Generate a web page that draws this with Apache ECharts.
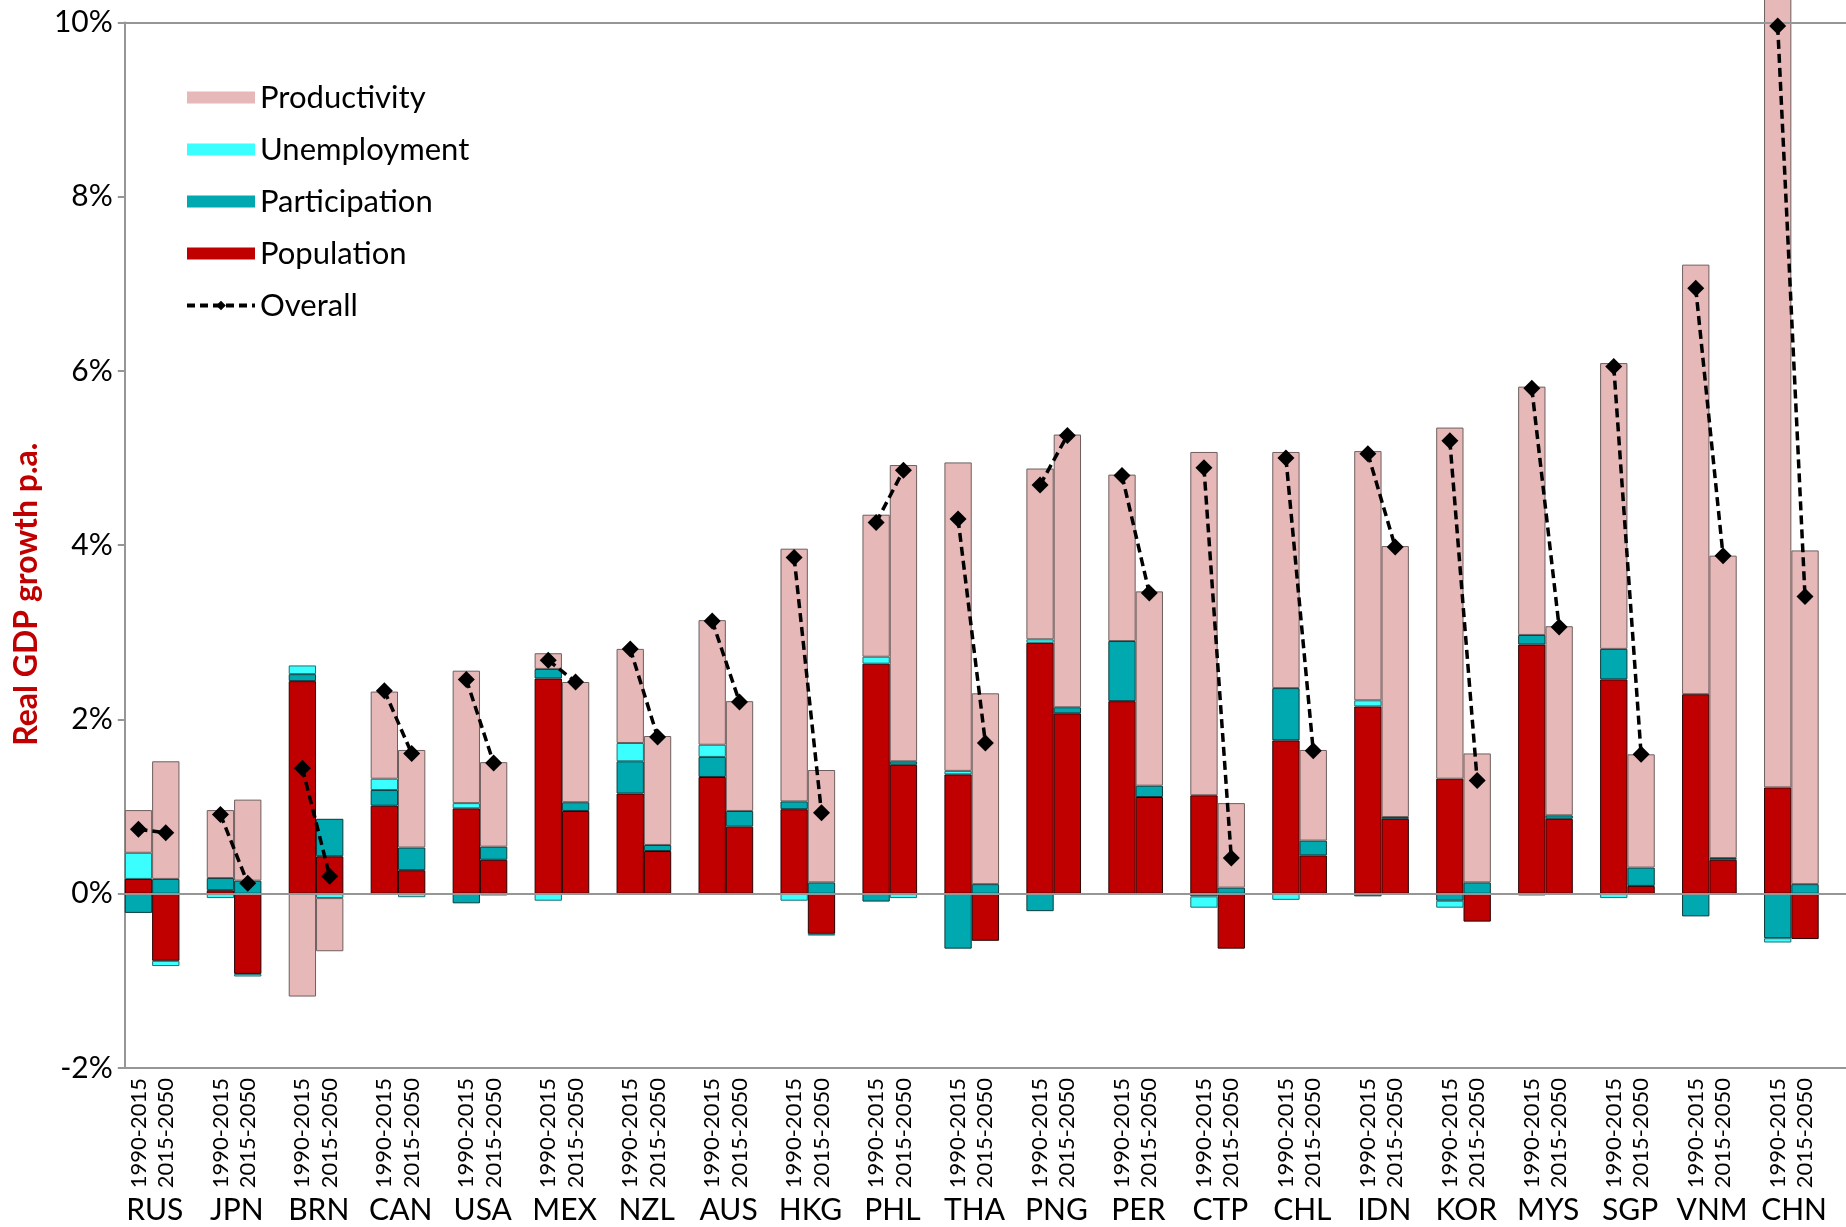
<!DOCTYPE html>
<html><head><meta charset="utf-8">
<script src="https://cdn.jsdelivr.net/npm/echarts@6/dist/echarts.min.js"></script>
<style>html,body{margin:0;padding:0;background:#fff}#c{width:1846px;height:1227px}</style>
</head><body><div id="c"></div>
<script>
const countries = ['RUS','JPN','BRN','CAN','USA','MEX','NZL','AUS','HKG','PHL','THA','PNG','PER','CTP','CHL','IDN','KOR','MYS','SGP','VNM','CHN'];
const periods = ['1990-2015','2015-2050'];
// values in % p.a., pairs per country: [1990-2015, 2015-2050]
const population    = [0.17,-0.77, 0.04,-0.92, 2.44,0.43, 1.01,0.27, 0.98,0.39, 2.47,0.95, 1.15,0.49, 1.34,0.77, 0.97,-0.46, 2.64,1.48, 1.37,-0.54, 2.88,2.07, 2.21,1.11, 1.13,-0.63, 1.76,0.44, 2.15,0.86, 1.32,-0.32, 2.86,0.86, 2.46,0.09, 2.29,0.39, 1.22,-0.52];
const participation = [-0.22,0.17, 0.14,0.15, 0.08,0.43, 0.18,0.26, -0.11,0.15, 0.11,0.10, 0.37,0.07, 0.23,0.18, 0.09,0.13, -0.09,0.04, -0.63,0.11, -0.20,0.07, 0.69,0.13, -0.03,0.07, 0.60,0.17, -0.03,0.02, -0.08,0.13, 0.11,0.04, 0.35,0.21, -0.26,0.02, -0.51,0.11];
const unemployment  = [0.30,-0.06, -0.05,-0.03, 0.10,-0.05, 0.13,-0.04, 0.06,-0.02, -0.08,0, 0.21,0, 0.14,0, -0.08,-0.02, 0.08,-0.05, 0.04,0, 0.04,0, 0,0, -0.13,0, -0.07,0, 0.07,0, -0.08,0, -0.02,0, -0.05,0, 0,0, -0.05,0];
const productivity  = [0.49,1.35, 0.78,0.93, -1.18,-0.61, 1.00,1.12, 1.52,0.97, 0.18,1.38, 1.08,1.25, 1.43,1.26, 2.90,1.29, 1.63,3.40, 3.54,2.19, 1.96,3.13, 1.91,2.23, 3.94,0.97, 2.71,1.04, 2.86,3.11, 4.03,1.48, 2.85,2.17, 3.28,1.30, 4.93,3.47, 9.30,3.83];
const overall       = [0.74,0.70, 0.91,0.12, 1.44,0.20, 2.33,1.61, 2.46,1.50, 2.68,2.43, 2.81,1.80, 3.13,2.20, 3.86,0.93, 4.26,4.86, 4.30,1.73, 4.69,5.26, 4.80,3.45, 4.89,0.41, 5.00,1.64, 5.05,3.98, 5.20,1.30, 5.80,3.06, 6.05,1.60, 6.95,3.88, 9.96,3.41];
const yMin = -2, yMax = 10, yInterval = 2;

const FONT = 'Lato';
const W = 1846, GL = 124.8, GR = 0;
const slotW = (W - GL - GR) / (countries.length * 3);

const slots = [];
countries.forEach(c => { slots.push(c + '|' + periods[0], c + '|' + periods[1], c + '|gap'); });
function expand(arr, keepZero) {
  const out = [];
  for (let i = 0; i < countries.length; i++) {
    const a = arr[2*i], b = arr[2*i+1];
    out.push((a === 0 && !keepZero) ? null : a, (b === 0 && !keepZero) ? null : b, null);
  }
  return out;
}
const axisGray = '#969696';
function barSeries(name, arr, color, border) {
  return {
    name, type: 'bar', stack: 'g', data: expand(arr), clip: false,
    barCategoryGap: '0%', itemStyle: { color, borderColor: border, borderWidth: 1 },
    emphasis: { disabled: true }, z: 2
  };
}
const chart = echarts.init(document.getElementById('c'), null, { renderer: 'canvas' });
const series = [
  Object.assign(barSeries('Population', population, '#C00000', '#2a0000'), {
    markLine: { silent: true, symbol: 'none', label: { show: false },
      lineStyle: { color: axisGray, width: 2, type: 'solid' }, data: [{ yAxis: yMax }] }
  }),
  barSeries('Participation', participation, '#00A9B0', '#0b3b3d'),
  barSeries('Unemployment', unemployment, '#3BFFFF', '#1f6e70'),
  barSeries('Productivity', productivity, '#E6B9B8', '#6e5f5f'),
  {
    name: 'Overall', type: 'line', data: expand(overall, true), connectNulls: false, z: 5,
    symbol: 'diamond', symbolSize: 17, itemStyle: { color: '#000' },
    lineStyle: { color: '#000', width: 3.5, type: [9, 5] },
    emphasis: { disabled: true },
    markLine: { silent: true, symbol: 'none', label: { show: false },
      lineStyle: { color: axisGray, width: 2, type: 'solid' }, data: [{ yAxis: 0 }] }
  }
];
chart.setOption({
  animation: false,
  backgroundColor: '#fff',
  textStyle: { fontFamily: FONT },
  grid: { left: GL, right: GR, top: 22.4, bottom: 1227 - 1068, containLabel: false },
  legend: {
    data: [
      { name: 'Productivity', icon: 'rect', itemStyle: { borderWidth: 0 } },
      { name: 'Unemployment', icon: 'rect', itemStyle: { borderWidth: 0 } },
      { name: 'Participation', icon: 'rect', itemStyle: { borderWidth: 0 } },
      { name: 'Population', icon: 'rect', itemStyle: { borderWidth: 0 } },
      { name: 'Overall', lineStyle: { width: 4, type: [8, 5], color: '#000' } }
    ],
    orient: 'vertical', left: 180, top: 76, itemWidth: 68, itemHeight: 12, itemGap: 19,
    selectedMode: false,
    textStyle: { fontFamily: FONT, fontSize: 31, color: '#000', lineHeight: 33 }
  },
  xAxis: [
    {
      type: 'category', data: slots, position: 'bottom',
      axisLine: { onZero: false, lineStyle: { color: axisGray, width: 2 } },
      axisTick: { show: false },
      axisLabel: { interval: 0, rotate: 90, margin: 10, fontSize: 22, color: '#000', fontFamily: FONT,
        formatter: v => { const p = v.split('|')[1]; return p === 'gap' ? '' : p; } }
    },
    {
      type: 'category', data: countries, position: 'bottom',
      axisLine: { show: false, onZero: false }, axisTick: { show: false },
      axisLabel: { interval: 0, margin: 127, fontSize: 30, color: '#000', fontFamily: FONT,
        padding: [0, slotW * 0.8, 0, 0] }
    }
  ],
  yAxis: {
    type: 'value', min: yMin, max: yMax, interval: yInterval,
    name: 'Real GDP growth p.a.', nameLocation: 'middle', nameGap: 80,
    nameTextStyle: { color: '#C00000', fontWeight: 'bold', fontSize: 32, fontFamily: FONT, padding: [0, 98, 0, 0] },
    axisLine: { show: true, lineStyle: { color: axisGray, width: 2 } },
    axisTick: { show: true, length: 7, lineStyle: { color: axisGray, width: 2 } },
    splitLine: { show: false },
    axisLabel: { formatter: '{value}%', fontSize: 30, color: '#000', margin: 12, fontFamily: FONT }
  },
  series
});
</script></body></html>
